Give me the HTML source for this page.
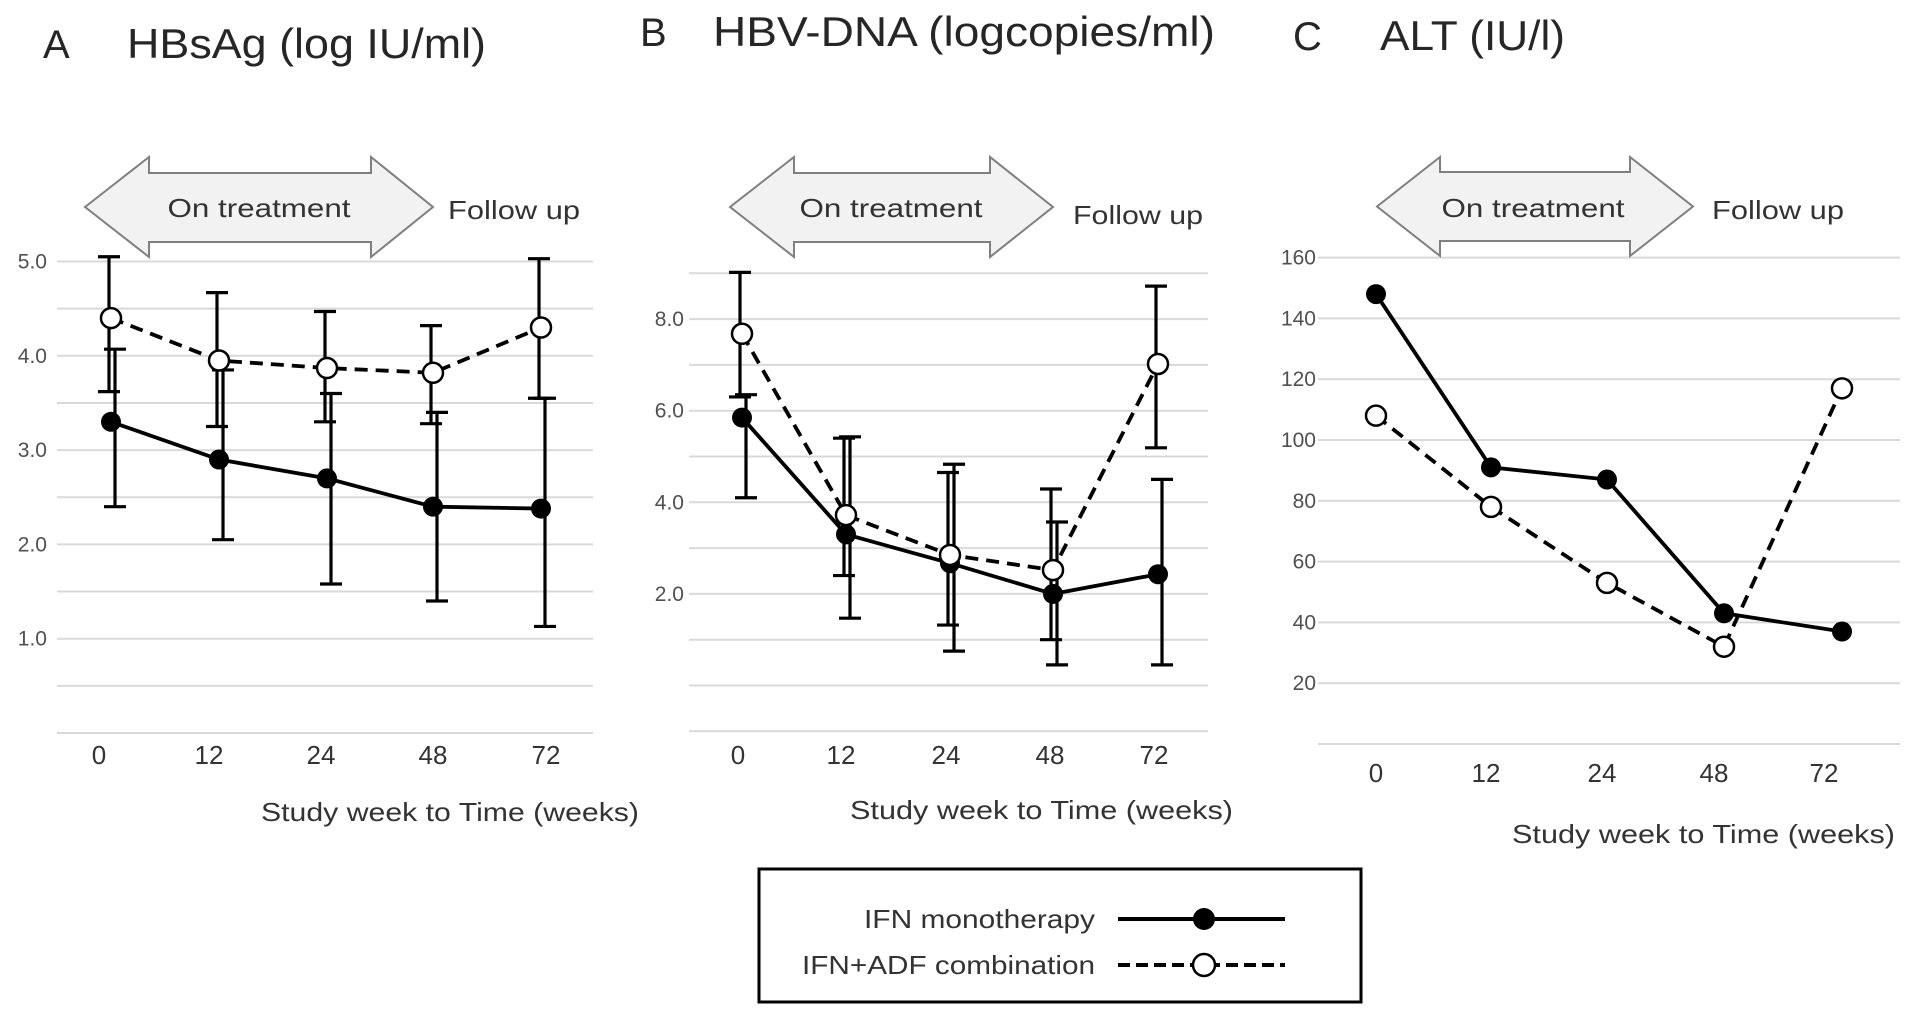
<!DOCTYPE html>
<html><head><meta charset="utf-8"><style>
html,body{margin:0;padding:0;background:#fff;}
svg{display:block;font-family:"Liberation Sans","DejaVu Sans",sans-serif;}
</style></head><body>
<svg id="fig" width="1913" height="1018" viewBox="0 0 1913 1018"></svg>
<script>
const categories = ["0","12","24","48","72"];
// Panel A: HBsAg
const aMono = [3.3, 2.9, 2.7, 2.4, 2.38];
const aMonoLow = [2.4, 2.05, 1.58, 1.4, 1.13];
const aMonoHigh = [4.07, 3.85, 3.6, 3.4, 3.55];
const aComb = [4.4, 3.95, 3.87, 3.82, 4.3];
const aCombLow = [3.62, 3.25, 3.3, 3.28, 3.55];
const aCombHigh = [5.05, 4.67, 4.47, 4.32, 5.03];
const aTicks = ["1.0","2.0","3.0","4.0","5.0"];
// Panel B: HBV-DNA
const bMono = [5.85, 3.3, 2.67, 2.0, 2.43];
const bMonoLow = [4.1, 1.47, 0.75, 0.45, 0.45];
const bMonoHigh = [6.35, 5.43, 4.83, 3.57, 4.5];
const bComb = [7.68, 3.72, 2.85, 2.52, 7.02];
const bCombLow = [6.3, 2.4, 1.32, 1.0, 5.19];
const bCombHigh = [9.02, 5.4, 4.65, 4.29, 8.72];
const bTicks = ["2.0","4.0","6.0","8.0"];
// Panel C: ALT
const cMono = [148, 91, 87, 43, 37];
const cComb = [108, 78, 53, 32, 117];
const cTicks = ["20","40","60","80","100","120","140","160"];

const NS="http://www.w3.org/2000/svg";
const svg=document.getElementById('fig');
function mk(tag,attrs,parent){const e=document.createElementNS(NS,tag);for(const k in attrs)e.setAttribute(k,attrs[k]);(parent||svg).appendChild(e);return e;}
function txt(s,attrs,parent){const e=mk('text',attrs,parent);e.textContent=s;return e;}

function arrow(g,x0,x1,hx0,hx1,y0,y1,s0,s1){
  const p=`M${x0},${(y0+y1)/2} L${hx0},${y0} L${hx0},${s0} L${hx1},${s0} L${hx1},${y0} L${x1},${(y0+y1)/2} L${hx1},${y1} L${hx1},${s1} L${hx0},${s1} L${hx0},${y1} Z`;
  const a=mk('path',{d:p,fill:'#f2f2f2',stroke:'#7f7f7f','stroke-width':2},g);
  
  
}

function panel(o){
  const g=mk('g',{});
  
  
  const y=v=>o.y0-(v-o.vmin)*o.k;
  for(let v=o.gmin; v<=o.gmax+1e-9; v+=o.gstep){
    const l=mk('line',{x1:o.gx0,x2:o.gx1,y1:y(v),y2:y(v),stroke:'#d9d9d9','stroke-width':2},g);
    
    
  }
  o.ticks.forEach(t=>{
    const e=txt(t,{x:o.tickX,y:y(parseFloat(t))+7,'text-anchor':'end','font-size':21,fill:'#505050'},g);
    
    
  });
  categories.forEach((c,i)=>{
    const e=txt(c,{x:o.lx[i],y:o.labelY,'text-anchor':'middle','font-size':26,fill:'#333'},g);
    
    
  });
  const at=txt('Study week to Time (weeks)',{x:o.axT[0],y:o.axT[1],'font-size':26,fill:'#333',textLength:o.axT[2],lengthAdjust:'spacingAndGlyphs'},g);
  
  
  const l1=txt(o.letter,{x:o.letX,y:o.titleY,'font-size':40,fill:'#262626'},g);
  
  
  const tt=txt(o.title,{x:o.tX,y:o.titleY,'font-size':42,fill:'#262626',textLength:o.tW,lengthAdjust:'spacingAndGlyphs'},g);
  
  
  arrow(g,...o.arr);
  const ot=txt('On treatment',{x:o.onT[0],y:o.onT[1]+9,'text-anchor':'middle','font-size':26,fill:'#333',textLength:183,lengthAdjust:'spacingAndGlyphs'},g);
  
  
  const fu=txt('Follow up',{x:o.fu[0],y:o.fu[1]+9,'font-size':26,fill:'#333',textLength:o.fu[2],lengthAdjust:'spacingAndGlyphs'},g);
  
  
  const eb=(vals,lo,hi,dx,nm)=>{ if(!lo) return; vals.forEach((v,i)=>{
    const x=o.mx[i]+dx;
    const p=mk('path',{d:`M${x},${y(lo[i])}V${y(hi[i])}M${x-11},${y(lo[i])}H${x+11}M${x-11},${y(hi[i])}H${x+11}`,stroke:'#000','stroke-width':3.2,fill:'none'},g);
    
    
  });};
  eb(o.comb,o.combLo,o.combHi,-2,'error-bar-combination');
  eb(o.mono,o.monoLo,o.monoHi,4,'error-bar-monotherapy');
  const line=(vals,dash,nm)=>{
    const pl=mk('polyline',{points:vals.map((v,i)=>o.mx[i]+','+y(v)).join(' '),fill:'none',stroke:'#000','stroke-width':3.8,'stroke-dasharray':dash?'13 8':'none'},g);
    
    
  };
  line(o.comb,true,'line-combination');
  line(o.mono,false,'line-monotherapy');
  o.mono.forEach((v,i)=>{
    const c=mk('circle',{cx:o.mx[i],cy:y(v),r:10,fill:'#000'},g);
    
    
  });
  o.comb.forEach((v,i)=>{
    const c=mk('circle',{cx:o.mx[i],cy:y(v),r:10,fill:'#fff',stroke:'#000','stroke-width':2.5},g);
    
    
  });
}

panel({name:'panel-a-hbsag',letter:'A',letX:43,tX:127,tW:359,titleY:58,title:'HBsAg (log IU/ml)',
  vmin:0,y0:733,k:94.3,gmin:0,gmax:5,gstep:0.5,gx0:57,gx1:593,tickX:47,ticks:aTicks,
  mx:[111,219,327,433,541],lx:[99,209,321,433,546],labelY:764,axT:[261,821,378],
  arr:[85,433,149,371,157,257,173,242],onT:[259,208],fu:[448,210,132],
  mono:aMono,monoLo:aMonoLow,monoHi:aMonoHigh,comb:aComb,combLo:aCombLow,combHi:aCombHigh});
panel({name:'panel-b-hbv-dna',letter:'B',letX:640,tX:713,tW:502,titleY:46,title:'HBV-DNA (logcopies/ml)',
  vmin:0,y0:685.5,k:45.8,gmin:-1,gmax:9,gstep:1,gx0:689,gx1:1208,tickX:684,ticks:bTicks,
  mx:[742,846,950,1053,1158],lx:[738,841,946,1050,1154],labelY:764,axT:[850,819,383],
  arr:[730,1053,794,990,157,257,173,242],onT:[891,208],fu:[1073,215,130],
  mono:bMono,monoLo:bMonoLow,monoHi:bMonoHigh,comb:bComb,combLo:bCombLow,combHi:bCombHigh});
panel({name:'panel-c-alt',letter:'C',letX:1293,tX:1380,tW:185,titleY:50,title:'ALT (IU/l)',
  vmin:0,y0:744,k:3.04,gmin:0,gmax:160,gstep:20,gx0:1318,gx1:1900,tickX:1316,ticks:cTicks,
  mx:[1376,1491,1607,1724,1842],lx:[1376,1486,1602,1714,1824],labelY:782,axT:[1512,843,383],
  arr:[1377,1693,1440,1630,157,256,172,241],onT:[1533,208],fu:[1712,210,132],
  mono:cMono,comb:cComb});

const lg=mk('g',{});


const box=mk('rect',{x:759,y:869,width:602,height:133,fill:'#fff',stroke:'#000','stroke-width':3},lg);


const t1=txt('IFN monotherapy',{x:1095,y:928,'text-anchor':'end','font-size':26,fill:'#333',textLength:231,lengthAdjust:'spacingAndGlyphs'},lg);


const t2=txt('IFN+ADF combination',{x:1095,y:974,'text-anchor':'end','font-size':26,fill:'#333',textLength:293,lengthAdjust:'spacingAndGlyphs'},lg);


const s1=mk('line',{x1:1118,x2:1285,y1:919,y2:919,stroke:'#000','stroke-width':4},lg);


const c1=mk('circle',{cx:1204,cy:919,r:11,fill:'#000'},lg);


const s2=mk('line',{x1:1118,x2:1285,y1:965,y2:965,stroke:'#000','stroke-width':4,'stroke-dasharray':'12 6'},lg);


const c2=mk('circle',{cx:1204,cy:965,r:11,fill:'#fff',stroke:'#000','stroke-width':2.5},lg);


</script>
</body></html>
